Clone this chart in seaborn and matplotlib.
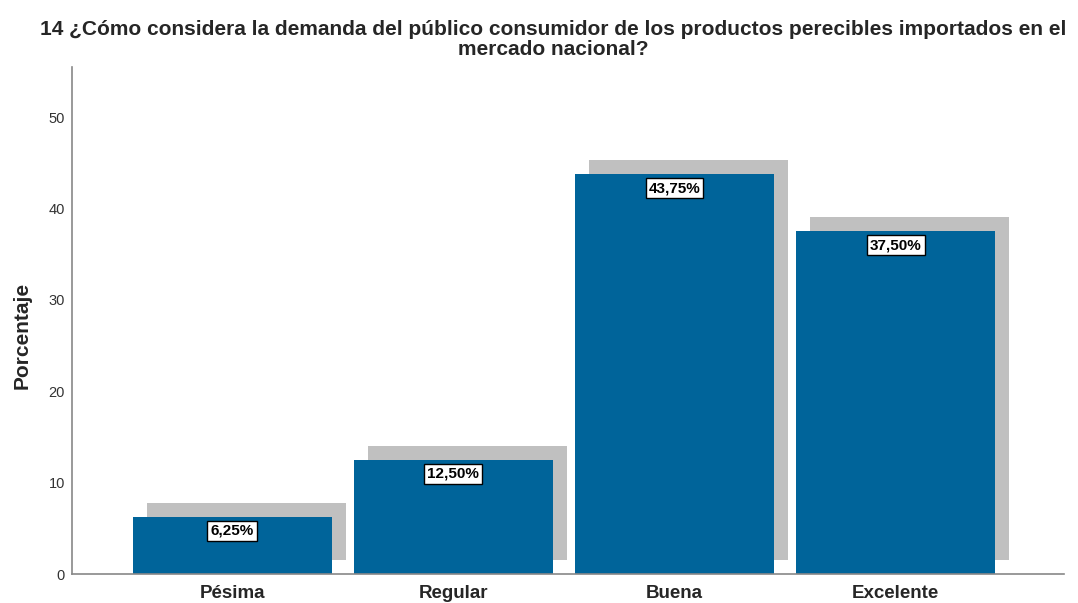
import matplotlib
matplotlib.use("Agg")
import matplotlib.pyplot as plt
import matplotlib.transforms as mtransforms
import seaborn as sns
import pandas as pd

# Datos
categorias = ["Pésima", "Regular", "Buena", "Excelente"]
porcentajes = [6.25, 12.50, 43.75, 37.50]
etiquetas = ["6,25%", "12,50%", "43,75%", "37,50%"]
ticks_y = [0, 10, 20, 30, 40, 50]

titulo = ("14 ¿Cómo considera la demanda del público consumidor de los productos perecibles importados en el\n"
          "mercado nacional?")

sns.set_theme(style="white")
plt.rcParams["font.family"] = ["Liberation Sans", "DejaVu Sans"]

df = pd.DataFrame({"categoria": categorias, "porcentaje": porcentajes})

fig = plt.figure(figsize=(10.78, 6.03), dpi=100)
ax = fig.add_axes([0.0668, 0.048, 0.92, 0.841])

# Sombra gris desplazada arriba a la derecha
sns.barplot(data=df, x="categoria", y="porcentaje", color="#c0c0c0",
            width=0.9, saturation=1, ax=ax, zorder=1)
desplaza = mtransforms.ScaledTranslation(14 / 100, 14 / 100, fig.dpi_scale_trans)
for p in ax.containers[0]:
    p.set_transform(ax.transData + desplaza)
    p.set_edgecolor("none")

# Barras principales
sns.barplot(data=df, x="categoria", y="porcentaje", color="#00649a",
            width=0.9, saturation=1, ax=ax, zorder=2)
for p in ax.containers[1]:
    p.set_edgecolor("none")

for i, (v, txt) in enumerate(zip(porcentajes, etiquetas)):
    ax.annotate(txt, xy=(i, v), xytext=(0, -10), textcoords="offset points",
                ha="center", va="center", fontsize=11, fontweight="bold",
                color="black", zorder=5,
                bbox=dict(boxstyle="square,pad=0.2", facecolor="white",
                          edgecolor="black", linewidth=1))

ax.set_xlim(-0.724, 3.76)
ax.set_ylim(0, 55.5)
ax.set_yticks(ticks_y)
ax.tick_params(axis="y", labelsize=10.5, colors="#333333", length=0, pad=5)
ax.tick_params(axis="x", labelsize=13.5, length=0, pad=8)
for lab in ax.get_xticklabels():
    lab.set_fontweight("bold")
ax.set_xlabel("")
ax.set_ylabel("Porcentaje", fontsize=15, fontweight="bold")
ax.yaxis.set_label_coords(-0.041, 0.47)

for s in ["top", "right"]:
    ax.spines[s].set_visible(False)
for s in ["left", "bottom"]:
    ax.spines[s].set_color("#888888")
    ax.spines[s].set_linewidth(1.2)

fig.text(0.513, 0.967, titulo, ha="center", va="top", fontsize=15,
         fontweight="bold", linespacing=1.08)

fig.savefig("out.png", dpi=100)
